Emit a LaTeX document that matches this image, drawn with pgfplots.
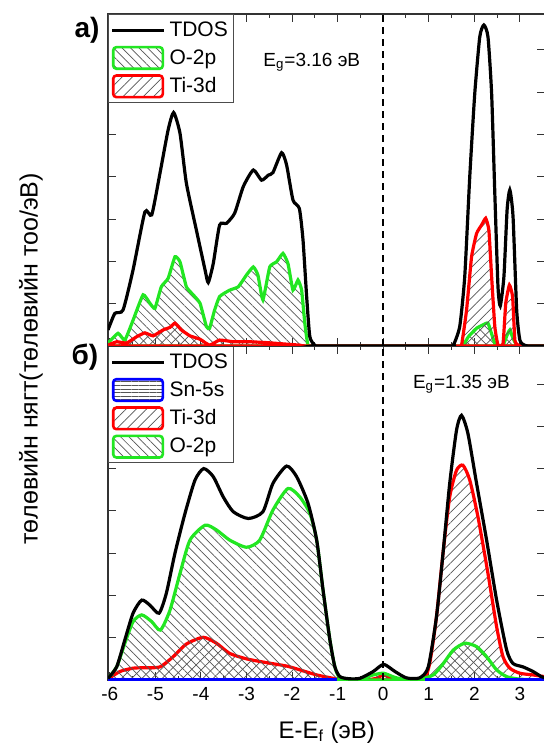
\documentclass[border=0pt]{standalone}
\usepackage{fontspec}
\setmainfont{Liberation Sans}
\usepackage{pgfplots}
\pgfplotsset{compat=1.18}
\usetikzlibrary{patterns.meta}
\definecolor{ogreen}{HTML}{22E622}
\definecolor{tired}{HTML}{FF0000}
\definecolor{snblue}{HTML}{0000FF}
\definecolor{hatch}{HTML}{555555}

\pgfplotsset{
  lineimg/.style={legend image code/.code={\draw[##1] (0pt,0pt) -- (26pt,0pt);}},
  boximg/.style={legend image code/.code={\draw[##1, rounded corners=1.6pt] (0.6pt,-5.2pt) rectangle (25.4pt,5.6pt);}},
  ohatch/.style={pattern={Lines[angle=-45,distance=3pt,line width=0.35pt]}, pattern color=hatch},
  thatch/.style={pattern={Lines[angle=45,distance=3.6pt,line width=0.35pt]}, pattern color=hatch},
  shatch/.style={pattern={Lines[angle=0,distance=1.8pt,line width=0.35pt]}, pattern color=hatch},
  dospanel/.style={
    scale only axis, width=218.7pt,
    xmin=-6.04, xmax=3.56, ymin=0,
    xtick={-6,...,3}, minor x tick num=1, ytick={1,...,7}, yticklabels={},
    tick align=inside, major tick length=4pt, minor tick length=2.2pt,
    axis line style={line width=0.6pt, black!80}, tick style={line width=0.5pt, black!80},
    tick label style={font=\fontsize{9.5}{11}\selectfont},
    /pgf/number format/assume math mode=true,
    legend style={at={(0,1)}, anchor=north west, draw=black!70, line width=0.5pt,
      fill=white, font=\fontsize{10.5}{12}\selectfont, row sep=1.2pt,
      inner xsep=1pt, inner ysep=1.5pt},
    legend cell align=left,
  },
}

\begin{document}
\begin{tikzpicture}
% ---------- panel b (bottom) ----------
\begin{axis}[dospanel, name=bot, height=167pt, ymax=7.9,
  xlabel={E-E\textsubscript{f} (эВ)},
  xlabel style={font=\fontsize{12}{14}\selectfont, at={(axis description cs:0.5,0)}, anchor=center, yshift=-26pt}]
\addlegendimage{lineimg, black, line width=1.5pt}
\addlegendentry{TDOS}
\addlegendimage{boximg, draw=snblue, line width=1.3pt, shatch}
\addlegendentry{Sn-5s}
\addlegendimage{boximg, draw=tired, line width=1.3pt, thatch}
\addlegendentry{Ti-3d}
\addlegendimage{boximg, draw=ogreen, line width=1.3pt, ohatch}
\addlegendentry{O-2p}

\addplot[forget plot, tired, line width=1.6pt, thatch, smooth, tension=0.4] table {
-6.04 0.02
-5.78 0.20
-5.49 0.28
-5.20 0.29
-4.90 0.31
-4.61 0.55
-4.32 0.85
-3.95 1.01
-3.66 0.87
-3.37 0.63
-3.00 0.50
-2.56 0.41
-2.12 0.33
-1.83 0.24
-1.46 0.12
-1.10 0.04
-0.90 0.00
-0.40 0.00
-0.15 0.04
0.01 0.12
0.20 0.03
0.40 0.00
0.88 0.02
1.02 0.39
1.17 1.50
1.32 3.07
1.46 4.33
1.61 4.96
1.75 5.08
1.90 4.73
2.08 3.86
2.30 2.52
2.49 1.26
2.63 0.55
2.78 0.28
3.00 0.16
3.29 0.12
3.47 0.09
3.56 0.08
} \closedcycle;
\addplot[forget plot, ogreen, line width=1.6pt, ohatch, smooth, tension=0.4] table {
-6.04 0.04
-5.85 0.31
-5.67 0.87
-5.49 1.38
-5.30 1.54
-5.08 1.38
-4.89 1.18
-4.68 1.65
-4.46 2.52
-4.24 3.31
-3.91 3.66
-3.66 3.55
-3.37 3.31
-3.00 3.14
-2.71 3.31
-2.42 4.02
-2.09 4.53
-1.83 4.33
-1.61 3.94
-1.46 3.31
-1.32 2.13
-1.17 0.95
-1.06 0.31
-0.95 0.06
-0.60 0.01
-0.22 0.12
0.01 0.16
0.26 0.06
0.50 0.01
0.80 0.02
1.10 0.12
1.32 0.39
1.54 0.71
1.79 0.87
2.05 0.79
2.27 0.55
2.49 0.24
2.71 0.08
3.00 0.02
3.56 0.00
} \closedcycle;
\addplot[forget plot, snblue, line width=1.6pt, shatch] table {
-6.04 0.01
-1.05 0.01
} \closedcycle;
\addplot[forget plot, snblue, line width=1.6pt, shatch] table {
0.95 0.01
3.56 0.01
} \closedcycle;
\addplot[forget plot, black, line width=1.6pt, smooth, tension=0.4] table {
-6.04 0.04
-5.85 0.31
-5.67 0.95
-5.49 1.58
-5.30 1.89
-5.12 1.77
-4.92 1.58
-4.76 2.05
-4.57 3.00
-4.35 3.94
-4.13 4.73
-3.94 5.00
-3.73 4.81
-3.51 4.33
-3.29 3.98
-2.96 3.82
-2.64 3.98
-2.42 4.65
-2.12 5.06
-1.90 4.81
-1.65 4.18
-1.46 3.31
-1.32 2.13
-1.17 0.95
-1.06 0.31
-0.95 0.08
-0.75 0.03
-0.51 0.04
-0.22 0.20
0.01 0.37
0.26 0.20
0.51 0.05
0.80 0.05
0.99 0.31
1.17 1.50
1.32 3.07
1.46 4.65
1.61 5.91
1.72 6.26
1.86 5.83
2.05 4.65
2.27 3.31
2.49 1.89
2.71 0.71
2.85 0.39
3.07 0.31
3.29 0.20
3.47 0.08
3.56 0.05
};
\addplot[forget plot, black, line width=0.9pt, dash pattern=on 3.5pt off 2.5pt] coordinates {(0,0) (0,7.9)};
\node[anchor=west, font=\fontsize{9.5}{11}\selectfont] at (axis cs:0.5,7.0) {E\textsubscript{g}=1.35 эВ};
\end{axis}

% ---------- panel a (top) ----------
\begin{axis}[dospanel, name=top, at={(0pt,167pt)}, anchor=south west, height=166pt, ymax=7.85,
  xticklabels={}]
\addlegendimage{lineimg, black, line width=1.5pt}
\addlegendentry{TDOS}
\addlegendimage{boximg, draw=ogreen, line width=1.3pt, ohatch}
\addlegendentry{O-2p}
\addlegendimage{boximg, draw=tired, line width=1.3pt, thatch}
\addlegendentry{Ti-3d}

\addplot[forget plot, ogreen, line width=1.6pt, ohatch, smooth, tension=0.25] table {
-6.04 0.07
-5.82 0.30
-5.67 0.14
-5.49 0.61
-5.27 1.21
-5.12 1.01
-5.01 0.89
-4.87 1.40
-4.72 1.60
-4.57 2.11
-4.46 1.99
-4.32 1.40
-4.17 1.21
-4.02 1.01
-3.88 0.46
-3.81 0.42
-3.70 0.85
-3.59 1.17
-3.37 1.32
-3.18 1.40
-3.00 1.68
-2.85 1.87
-2.75 1.68
-2.64 1.09
-2.49 1.87
-2.34 1.99
-2.20 2.19
-2.09 1.95
-1.98 1.32
-1.87 1.56
-1.79 1.32
-1.72 0.54
-1.65 0.02
-1.50 0.00
1.70 0.00
1.76 0.02
1.87 0.22
2.05 0.42
2.19 0.50
2.30 0.54
2.40 0.22
2.47 0.02
2.63 0.02
2.72 0.26
2.78 0.38
2.85 0.18
2.93 0.02
3.00 0.00
3.56 0.00
} \closedcycle;
\addplot[forget plot, tired, line width=1.6pt, thatch, smooth, tension=0.25] table {
-6.04 0.02
-5.85 0.10
-5.63 0.07
-5.41 0.22
-5.23 0.31
-5.05 0.24
-4.83 0.38
-4.68 0.44
-4.57 0.54
-4.43 0.38
-4.24 0.24
-4.02 0.16
-3.81 0.02
-3.59 0.14
-3.29 0.10
-2.93 0.10
-2.56 0.08
-2.20 0.05
-1.83 0.02
-1.60 0.00
1.65 0.00
1.72 0.02
1.83 0.85
1.94 2.11
2.05 2.66
2.16 2.86
2.25 3.02
2.32 2.74
2.38 1.64
2.45 0.46
2.52 0.02
2.63 0.05
2.69 1.01
2.77 1.44
2.84 1.17
2.89 0.14
2.96 0.02
3.05 0.00
3.56 0.00
} \closedcycle;
\addplot[forget plot, black, line width=1.6pt, smooth, tension=0.35] table {
-6.04 0.38
-5.89 0.77
-5.71 0.85
-5.49 1.80
-5.23 3.17
-5.08 3.10
-4.90 4.08
-4.72 5.11
-4.60 5.52
-4.46 5.03
-4.32 3.85
-4.10 2.74
-3.91 1.80
-3.84 1.50
-3.73 1.95
-3.59 2.86
-3.44 2.90
-3.26 3.14
-3.07 3.77
-2.85 4.16
-2.67 3.92
-2.52 4.04
-2.42 4.10
-2.23 4.57
-2.12 4.28
-1.98 3.45
-1.84 3.25
-1.76 2.51
-1.68 1.17
-1.61 0.22
-1.50 0.02
-1.40 0.00
1.45 0.00
1.54 0.02
1.68 0.46
1.79 1.64
1.90 4.00
2.01 5.97
2.12 7.31
2.21 7.59
2.30 7.31
2.38 5.97
2.45 3.61
2.52 1.40
2.57 0.95
2.65 1.64
2.72 3.22
2.78 3.69
2.85 3.06
2.93 0.85
3.00 0.14
3.10 0.02
3.20 0.00
3.56 0.00
};
\addplot[forget plot, black, line width=0.9pt, dash pattern=on 3.5pt off 2.5pt] coordinates {(0,0) (0,7.85)};
\node[anchor=east, font=\fontsize{9.5}{11}\selectfont] at (axis cs:-0.35,6.72) {E\textsubscript{g}=3.16 эВ};
\end{axis}

\node[font=\fontsize{14}{16}\selectfont\bfseries, xshift=-10.5pt, yshift=-8pt] at (top.north west) {a)};
\node[font=\fontsize{14}{16}\selectfont\bfseries, xshift=-11.5pt, yshift=-5.5pt] at (bot.north west) {б)};
\node[rotate=90, font=\fontsize{12.5}{14}\selectfont] at (-38.5pt,160.5pt) {төлөвийн нягт(төлөвийн тоо/эВ)};

\pgfresetboundingbox
\path[use as bounding box] (-54pt,-34.5pt) rectangle (217.5pt,340pt);
\end{tikzpicture}
\end{document}
